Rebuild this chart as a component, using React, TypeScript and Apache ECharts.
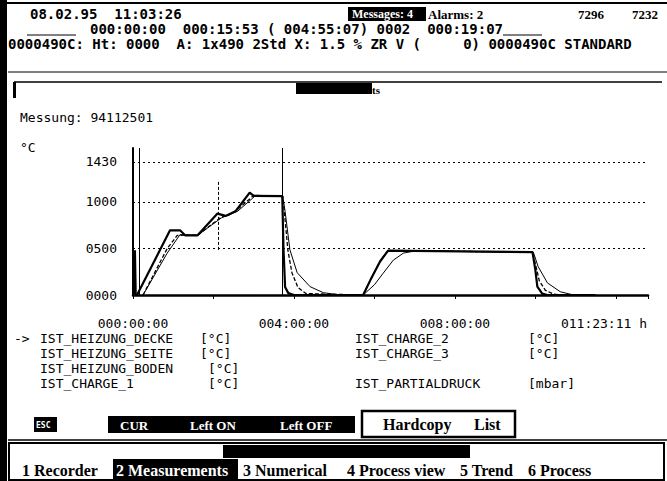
import React, { useEffect, useRef } from "react";
import * as echarts from "echarts";

// ---- data (hours since start, °C) ----
const yTickValues = [0, 500, 1000, 1430];
const gridValues = [500, 1000, 1430];
const xLabelHours = [0, 4, 8];
const xLabelTexts = ["000:00:00", "004:00:00", "008:00:00"];
const xEndLabel = "011:23:11 h";
const cursorHours = [0.15, 3.71];
const dashedCursor = { t: 2.11, from: 485, to: 1230 };

const tDecke = [0.1, 0.92, 1.17, 1.3, 1.6, 2.1, 2.3, 2.55, 2.9, 3.0, 3.71, 3.74, 3.78, 3.86, 4.0, 5.72, 5.9, 6.14, 6.34, 9.93, 10.0, 10.05, 10.17, 10.3, 11.49];
const vDecke = [0, 695, 695, 640, 640, 875, 850, 900, 1100, 1065, 1063, 500, 85, 20, 0, 0, 160, 360, 478, 460, 270, 90, 15, 0, 0];

const tSeite = [0.25, 0.85, 1.1, 1.3, 1.6, 2.2, 2.35, 2.6, 3.0, 3.72, 3.76, 3.85, 3.95, 4.1, 4.3, 5.72, 5.9, 6.14, 6.34, 9.93, 10.02, 10.1, 10.25, 10.45, 10.6];
const vSeite = [0, 500, 640, 645, 640, 840, 850, 920, 1070, 1063, 900, 480, 240, 80, 15, 0, 160, 360, 478, 460, 300, 150, 50, 10, 0];

const tCharge1 = [0.25, 0.85, 1.17, 1.3, 1.6, 2.2, 2.6, 3.05, 3.72, 3.78, 3.9, 4.08, 4.4, 4.73, 5.07, 5.72, 6.0, 6.22, 6.47, 6.72, 6.94, 7.5, 9.95, 10.07, 10.3, 10.62, 10.95, 11.49];
const vCharge1 = [0, 450, 650, 645, 640, 830, 900, 1070, 1063, 900, 485, 240, 90, 25, 5, 0, 110, 235, 375, 450, 468, 470, 460, 305, 130, 35, 0, 0];

const tSpike = [0.02, 0.04, 0.05, 0.07, 0.1];
const vSpike = [0, 0, 480, 0, 0];

const legendLeft = [
  ["-> ", "IST_HEIZUNG_DECKE", "[°C]"],
  ["", "IST_HEIZUNG_SEITE", "[°C]"],
  ["", "IST_HEIZUNG_BODEN", "[°C]"],
  ["", "IST_CHARGE_1", "[°C]"],
];
const legendRight = [
  ["IST_CHARGE_2", "[°C]"],
  ["IST_CHARGE_3", "[°C]"],
  ["", ""],
  ["IST_PARTIALDRUCK", "[mbar]"],
];
const tabs = ["1 Recorder", "2 Measurements", "3 Numerical", "4 Process view", "5 Trend", "6 Process"];

const MONO = "DejaVu Sans Mono";
const SERIF = "Liberation Serif";

function pair(t: number[], v: number[]) {
  return t.map((x, i) => [x, v[i]]);
}

function txt(text: string, x: number, y: number, o: any = {}) {
  return {
    type: "text",
    x,
    y,
    silent: true,
    z: 10,
    style: {
      text,
      fill: o.fill || "#000",
      font: o.font || `13px '${MONO}'`,
      align: o.align || "left",
      textAlign: o.align || "left",
      verticalAlign: "middle",
      textVerticalAlign: "middle",
    },
  };
}
function rect(x: number, y: number, w: number, h: number, o: any = {}) {
  return {
    type: "rect",
    silent: true,
    z: o.z || 5,
    shape: { x, y, width: w, height: h },
    style: { fill: o.fill === undefined ? "#000" : o.fill, stroke: o.stroke || null, lineWidth: o.lw || 0 },
  };
}
function hline(x1: number, x2: number, y: number, lw = 1) {
  return { type: "line", silent: true, z: 5, shape: { x1, y1: y, x2, y2: y }, style: { stroke: "#000", lineWidth: lw } };
}

export default function App() {
  const ref = useRef<HTMLDivElement>(null);
  useEffect(() => {
    document.body.style.margin = "0";
    const chart = echarts.init(ref.current!, null, { renderer: "svg" });
    const headerFont = `bold 14px '${MONO}'`;
    const graphic: any[] = [
      rect(0, 0, 7, 481),
      rect(0, 2, 667, 2),
      txt("08.02.95  11:03:26", 30, 14, { font: headerFont }),
      rect(348, 7, 78, 14),
      txt("Messages: 4", 352, 14, { font: `bold 12px '${SERIF}'`, fill: "#fff" }),
      txt("Alarms: 2", 428, 14, { font: `bold 13px '${SERIF}'` }),
      txt("7296", 578, 14, { font: `bold 13px '${SERIF}'` }),
      txt("7232", 632, 14, { font: `bold 13px '${SERIF}'` }),
      txt("000:00:00  000:15:53 ( 004:55:07) 0002  000:19:07", 90, 29, { font: headerFont }),
      hline(27, 76, 35),
      hline(503, 542, 35),
      txt("0000490C: Ht: 0000  A: 1x490 2Std X: 1.5 % ZR V (     0) 0000490C STANDARD", 8, 44, { font: headerFont }),
      hline(8, 667, 72, 1),
      hline(14, 662, 82, 1.5),
      rect(13, 82, 3, 16),
      rect(296, 83, 76, 11),
      txt("ts", 372, 90, { font: `bold 11px '${SERIF}'` }),
      txt("Messung: 94112501", 20, 117),
      txt("°C", 20, 147),
      txt(xEndLabel, 647, 323, { align: "right" }),
    ];
    const rows = [338, 353, 368, 383];
    legendLeft.forEach((r, i) => {
      if (r[0]) graphic.push(txt(r[0], 14, rows[i]));
      graphic.push(txt(r[1], 40, rows[i]));
      graphic.push(txt(r[2], i < 2 ? 200 : 208, rows[i]));
    });
    legendRight.forEach((r, i) => {
      if (!r[0]) return;
      graphic.push(txt(r[0], 355, rows[i]));
      graphic.push(txt(r[1], 528, rows[i]));
    });
    // button row
    graphic.push(rect(34, 417, 23, 15));
    graphic.push(txt("ESC", 36, 425, { font: `bold 8px '${MONO}'`, fill: "#fff" }));
    graphic.push(rect(108, 416, 247, 17));
    graphic.push(txt("CUR", 120, 425, { font: `bold 13px '${SERIF}'`, fill: "#fff" }));
    graphic.push(txt("Left ON", 190, 425, { font: `bold 13px '${SERIF}'`, fill: "#fff" }));
    graphic.push(txt("Left OFF", 280, 425, { font: `bold 13px '${SERIF}'`, fill: "#fff" }));
    graphic.push(rect(362, 411, 153, 26, { fill: "#fff", stroke: "#000", lw: 2.5 }));
    graphic.push(txt("Hardcopy", 383, 424, { font: `bold 16px '${SERIF}'` }));
    graphic.push(txt("List", 474, 424, { font: `bold 16px '${SERIF}'` }));
    graphic.push(hline(8, 667, 440, 1.5));
    // tab bar
    graphic.push(rect(9, 443, 655, 37, { fill: "#fff", stroke: "#000", lw: 2 }));
    graphic.push(rect(223, 445, 247, 13, { z: 6 }));
    graphic.push(rect(113, 459, 125, 21, { z: 6 }));
    const tabX = [22, 116, 243, 347, 460, 528];
    tabs.forEach((t, i) =>
      graphic.push(txt(t, tabX[i], 470, { font: `bold 16px '${SERIF}'`, fill: i === 1 ? "#fff" : "#000" }))
    );

    const gridLineData: any[] = gridValues.map((v) => ({ yAxis: v, lineStyle: { type: [2, 3], color: "#000", width: 1 } }));
    cursorHours.forEach((h) => gridLineData.push({ xAxis: h, lineStyle: { type: "solid", color: "#000", width: 1 } }));
    gridLineData.push([
      { coord: [dashedCursor.t, dashedCursor.from], lineStyle: { type: [3, 2], color: "#000", width: 1 } },
      { coord: [dashedCursor.t, dashedCursor.to] },
    ]);

    chart.setOption({
      animation: false,
      backgroundColor: "#fff",
      grid: { left: 133, right: 19, top: 148, bottom: 186 },
      xAxis: {
        type: "value",
        min: 0,
        max: 12.8,
        interval: 2,
        axisLine: { lineStyle: { color: "#000", width: 2.5 } },
        axisTick: { show: true, length: 4, lineStyle: { color: "#000", width: 1 } },
        axisLabel: {
          color: "#000",
          fontFamily: MONO,
          fontSize: 13,
          margin: 22,
          formatter: (v: number) => {
            const i = xLabelHours.indexOf(v);
            return i >= 0 ? xLabelTexts[i] : "";
          },
        },
        splitLine: { show: false },
      },
      yAxis: {
        type: "value",
        min: 0,
        max: 1580,
        axisLine: { show: true, lineStyle: { color: "#000", width: 2 } },
        axisTick: { show: false },
        axisLabel: {
          color: "#000",
          fontFamily: MONO,
          fontSize: 13,
          margin: 16,
          customValues: yTickValues,
          formatter: (v: number) => String(v).padStart(4, "0"),
        },
        splitLine: { show: false },
      },
      series: [
        {
          name: "IST_HEIZUNG_DECKE",
          type: "line",
          data: pair(tDecke, vDecke),
          symbol: "none",
          lineStyle: { color: "#000", width: 2.2 },
          markLine: { silent: true, symbol: ["none", "none"], label: { show: false }, data: gridLineData },
        },
        {
          name: "IST_HEIZUNG_SEITE",
          type: "line",
          data: pair(tSeite, vSeite),
          symbol: "none",
          lineStyle: { color: "#000", width: 1.3, type: [4, 2] },
        },
        {
          name: "IST_CHARGE_1",
          type: "line",
          data: pair(tCharge1, vCharge1),
          symbol: "none",
          lineStyle: { color: "#000", width: 1 },
        },
        {
          name: "IST_PARTIALDRUCK",
          type: "line",
          data: pair(tSpike, vSpike),
          symbol: "none",
          lineStyle: { color: "#000", width: 2 },
        },
      ],
      graphic,
    });
    return () => chart.dispose();
  }, []);
  return <div ref={ref} style={{ width: 667, height: 481 }} />;
}
